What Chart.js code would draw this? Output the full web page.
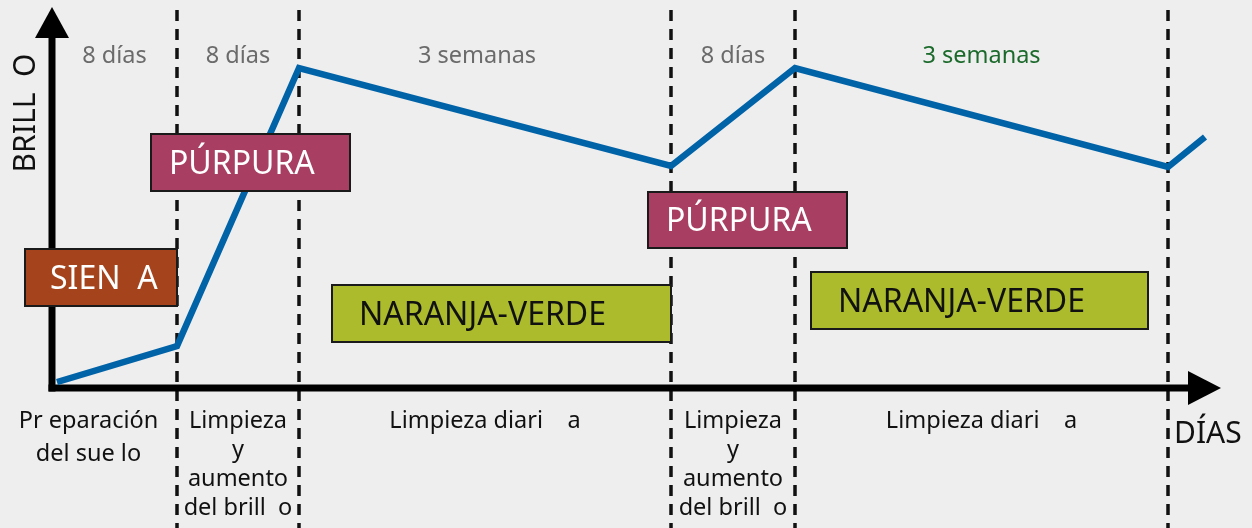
<!DOCTYPE html>
<html><head><meta charset="utf-8">
<script src="https://cdn.jsdelivr.net/npm/chart.js@4"></script>
<style>html,body{margin:0;padding:0;background:#eeeeee;overflow:hidden}</style>
</head><body><canvas id="c" width="1252" height="528"></canvas>
<script>
// Time position (arbitrary units) and brightness level of the curve
const dayPos = [7, 127, 249, 621, 745, 1118, 1155];
const brillo = [3, 39, 317, 219, 317, 218, 248];
// Phase boundaries (dashed lines)
const phaseBounds = [127, 249, 621, 745, 1118];
const durationLabels = ['8 días', '8 días', '3 semanas', '8 días', '3 semanas'];
const phaseLabels = [
  ['Pr eparación', 'del sue lo'],
  ['Limpieza', 'y', 'aumento', 'del brill  o'],
  ['Limpieza diari    a'],
  ['Limpieza', 'y', 'aumento', 'del brill  o'],
  ['Limpieza diari    a']
];
const productNames = ['SIEN  A', 'PÚRPURA', 'NARANJA-VERDE', 'PÚRPURA', 'NARANJA-VERDE'];
const productStart = [-25, 101, 282, 598, 761];
const productEnd = [127, 300, 621, 797, 1098];
const productLow = [79, 194, 43, 137, 56];
const productHigh = [136, 251, 100, 193, 113];
const yTitle = 'BRILL  O';
const xTitle = 'DÍAS';

const FONT = '"Noto Sans", "Open Sans", sans-serif';
const productStyle = {
  'SIEN  A': ['#a5441c', '#ffffff', 25],
  'PÚRPURA': ['#a83e62', '#ffffff', 18],
  'NARANJA-VERDE': ['#abbb2b', '#111111', 27]
};

const deco = {
  id: 'deco',
  beforeDraw(chart) {
    const ctx = chart.ctx;
    ctx.save();
    ctx.fillStyle = '#eeeeee';
    ctx.fillRect(0, 0, chart.width, chart.height);
    ctx.restore();
  },
  beforeDatasetsDraw(chart) {
    const ctx = chart.ctx, xs = chart.scales.x, ys = chart.scales.y;
    const x0 = xs.getPixelForValue(0), y0 = ys.getPixelForValue(0);
    ctx.save();
    // dashed phase lines
    ctx.strokeStyle = '#111';
    ctx.lineWidth = 3.5;
    ctx.setLineDash([11, 8]);
    phaseBounds.forEach(b => {
      const px = Math.round(xs.getPixelForValue(b));
      ctx.beginPath(); ctx.moveTo(px, 10); ctx.lineTo(px, chart.height); ctx.stroke();
    });
    ctx.setLineDash([]);
    // axes
    ctx.fillStyle = '#000'; ctx.strokeStyle = '#000'; ctx.lineWidth = 7;
    const ax = x0 + 2, ay = y0 + 3;
    ctx.beginPath(); ctx.moveTo(ax, ay + 3.5); ctx.lineTo(ax, 34); ctx.stroke();
    ctx.beginPath(); ctx.moveTo(ax, 7); ctx.lineTo(ax - 17, 38); ctx.lineTo(ax + 17, 38); ctx.closePath(); ctx.fill();
    ctx.beginPath(); ctx.moveTo(ax - 3.5, ay); ctx.lineTo(1192, ay); ctx.stroke();
    ctx.beginPath(); ctx.moveTo(1221, ay); ctx.lineTo(1188, ay - 17); ctx.lineTo(1188, ay + 17); ctx.closePath(); ctx.fill();

    // duration labels on top
    const bounds = [2].concat(phaseBounds);
    ctx.font = '23.5px ' + FONT;
    ctx.textAlign = 'center'; ctx.textBaseline = 'middle';
    durationLabels.forEach((t, i) => {
      const a = xs.getPixelForValue(bounds[i]), b = xs.getPixelForValue(bounds[i + 1]);
      ctx.fillStyle = i === 4 ? '#1b6a2b' : '#6b6b6b';
      ctx.fillText(t, (a + b) / 2 - (i === 2 ? 8 : 0), 56);
    });
    // phase labels at bottom
    ctx.fillStyle = '#111';
    const bb = [-x0].concat(phaseBounds);
    phaseLabels.forEach((lines, i) => {
      const a = xs.getPixelForValue(bb[i]), b = xs.getPixelForValue(bb[i + 1]);
      const lh = lines.length > 2 ? 29 : 33;
      lines.forEach((t, k) => ctx.fillText(t, (a + b) / 2, 421 + k * lh));
    });
    // axis titles
    ctx.font = '30px ' + FONT;
    ctx.textAlign = 'left';
    ctx.fillText(xTitle, 1174, 434);
    ctx.save();
    ctx.translate(26, 113); ctx.rotate(-Math.PI / 2);
    ctx.textAlign = 'center';
    ctx.font = '30px ' + FONT;
    ctx.fillText(yTitle, 0, 0);
    ctx.restore();
    ctx.restore();
  },
  afterDatasetsDraw(chart) {
    const ctx = chart.ctx, xs = chart.scales.x, ys = chart.scales.y;
    ctx.save();
    productNames.forEach((name, i) => {
      const l = xs.getPixelForValue(productStart[i]), r = xs.getPixelForValue(productEnd[i]);
      const t = ys.getPixelForValue(productHigh[i]), b = ys.getPixelForValue(productLow[i]);
      const [bg, fg, pad] = productStyle[name];
      ctx.fillStyle = bg; ctx.fillRect(l, t, r - l, b - t);
      ctx.strokeStyle = '#1a1a1a'; ctx.lineWidth = 2; ctx.strokeRect(l, t, r - l, b - t);
      ctx.fillStyle = fg; ctx.font = '32px ' + FONT;
      ctx.textAlign = 'left'; ctx.textBaseline = 'alphabetic';
      ctx.fillText(name, l + pad, (t + b) / 2 + 11);
    });
    ctx.restore();
  }
};

new Chart(document.getElementById('c'), {
  type: 'line',
  data: {
    datasets: [{
      data: dayPos.map((x, i) => ({ x, y: brillo[i] })),
      borderColor: '#0063a8', borderWidth: 6.5, pointRadius: 0, tension: 0,
      borderJoinStyle: 'miter', fill: false
    }]
  },
  options: {
    responsive: false, animation: false,
    layout: { padding: { left: 50, right: 42, top: 20, bottom: 143 } },
    scales: {
      x: { type: 'linear', min: 0, max: 1160, display: false },
      y: { min: 0, max: 365, display: false }
    },
    plugins: { legend: { display: false }, tooltip: { enabled: false } }
  },
  plugins: [deco]
});
</script></body></html>
